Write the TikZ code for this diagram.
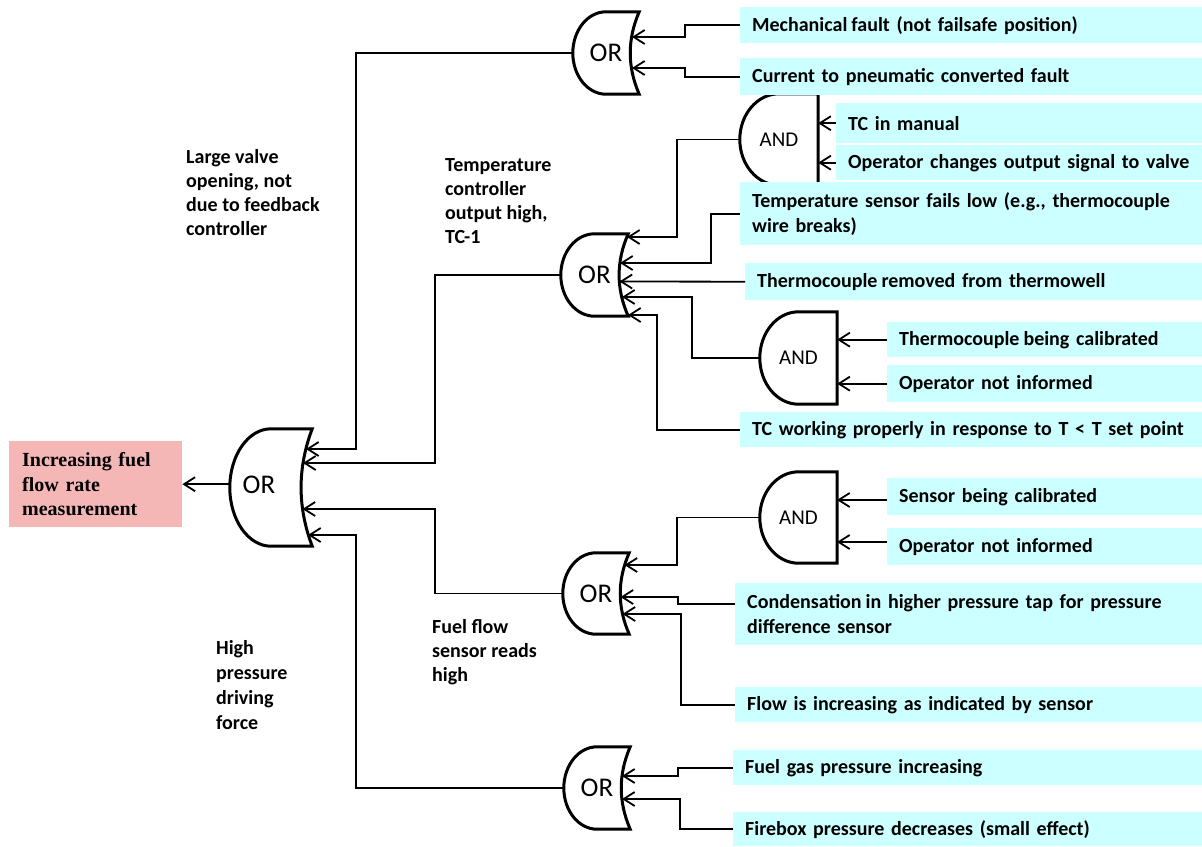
\documentclass[tikz,border=0pt]{standalone}
\usepackage{fontspec}
\setmainfont{Carlito}
\newfontfamily\serifb{Liberation Serif}
\usetikzlibrary{arrows.meta,calc}

\definecolor{evfill}{RGB}{204,255,255}
\definecolor{topfill}{RGB}{245,182,182}

\tikzset{
  gateline/.style={line width=3pt, line join=miter},
  gatenode/.style={inner sep=0pt, font=\fontsize{27}{30}\selectfont},
  andnode/.style={inner sep=0pt, font=\fontsize{21}{24}\selectfont},
  conn/.style={line width=1.8pt, -{Straight Barb[length=11pt,width=14pt,line width=1.8pt]}},
  evbox/.style={anchor=north west, fill=evfill, inner xsep=12pt, inner ysep=0pt,
    align=left, font=\fontsize{20}{25}\selectfont\bfseries},
  note/.style={anchor=west, align=left, inner sep=0pt, font=\fontsize{20}{24}\selectfont\bfseries},
}

% OR gate outline around a named node: round left side, concave input side
\newcommand\orshape[1]{%
  \draw[gateline] let \p1=(#1.north west), \p2=(#1.south east),
      \n1={0.5*(\x2-\x1)}, \n2={0.5*(\y1-\y2)}, \n3={0.18*(\x2-\x1)} in
    (\x2,\y1) -- (\x1+\n1,\y1)
    .. controls (\x1+0.448*\n1,\y1) and (\x1,\y1-0.448*\n2) .. (\x1,\y1-\n2)
    .. controls (\x1,\y2+0.448*\n2) and (\x1+0.448*\n1,\y2) .. (\x1+\n1,\y2)
    -- (\x2,\y2)
    .. controls (\x2-\n3,\y2+0.667*\n2) and (\x2-\n3,\y1-0.667*\n2) .. cycle;}

% AND gate outline around a named node: round left side, flat input side
\newcommand\andshape[1]{%
  \draw[gateline] let \p1=(#1.north west), \p2=(#1.south east),
      \n1={0.5*(\x2-\x1)}, \n2={0.5*(\y1-\y2)} in
    (\x2,\y1) -- (\x1+\n1,\y1)
    .. controls (\x1+0.448*\n1,\y1) and (\x1,\y1-0.448*\n2) .. (\x1,\y1-\n2)
    .. controls (\x1,\y2+0.448*\n2) and (\x1+0.448*\n1,\y2) .. (\x1+\n1,\y2)
    -- (\x2,\y2) -- cycle;}

% event box reaching the right edge: name, left x, top y, bottom y, text
\newcommand\evbox[5]{%
  \pgfmathsetmacro\bw{1200-#2}\pgfmathsetmacro\bh{#4-#3}\pgfmathsetmacro\tw{1200-#2-14}%
  \node[evbox, minimum width=\bw pt, minimum height=\bh pt, text width=\tw pt] (#1) at (#2,#3) {#5};}
\newcommand\wsp{\hspace{4pt}}

\begin{document}
\begin{tikzpicture}[x=1pt,y=-1pt]
\useasboundingbox (0,0) rectangle (1202,846);

% top event
\node[anchor=north west, fill=topfill, minimum width=173pt, minimum height=86pt,
  inner xsep=13pt, inner ysep=0pt, text width=147pt, align=left,
  font=\serifb\bfseries\fontsize{20}{24.5}\selectfont] (top) at (9,441)
  {Increasing fuel\\flow rate\\measurement};

% gates
\node[gatenode, minimum width=82pt, minimum height=117pt] (main) at (271,487.5) {};
\node[gatenode] (mainlabel) at (259,485) {OR};
\orshape{main}
\node[gatenode, minimum width=66pt, minimum height=82pt] (or1) at (606,53) {OR};
\orshape{or1}
\node[gatenode, minimum width=67pt, minimum height=82pt] (or2) at (594.5,275) {OR};
\orshape{or2}
\node[gatenode, minimum width=66pt, minimum height=81pt] (or3) at (596,593.5) {OR};
\orshape{or3}
\node[gatenode, minimum width=66pt, minimum height=82pt] (or4) at (597,788) {OR};
\orshape{or4}
\node[andnode, minimum width=78pt, minimum height=91pt] (and1) at (779,139.5) {AND};
\andshape{and1}
\node[andnode, minimum width=77pt, minimum height=92pt] (and2) at (798.5,358) {AND};
\andshape{and2}
\node[andnode, minimum width=77pt, minimum height=91pt] (and3) at (798.5,517.5) {AND};
\andshape{and3}

% intermediate event labels
\node[note] (lv) at (186,193) {Large valve\\opening, not\\due to feedback\\controller};
\node[note] (tco) at (445,201) {Temperature\\controller\\output high,\\TC-1};
\node[note, font=\fontsize{20}{25}\selectfont\bfseries] (hp) at (216,685) {High\\pressure\\driving\\force};
\node[note] (ff) at (432,652) {Fuel flow\\sensor reads\\high};

% basic events
\evbox{mech}{740}{7}{43}{Mechanical\wsp fault (not failsafe position)}
\evbox{ip}{740}{58}{95}{Current to pneumatic converted fault}
\evbox{tcm}{836}{103}{143}{TC in manual}
\evbox{ops}{836}{145}{180}{Operator changes output signal to valve}
\evbox{tsl}{740}{182}{245}{Temperature sensor fails low (e.g., thermocouple\\wire breaks)}
\evbox{tcr}{745}{263}{300}{Thermocouple\wsp removed from thermowell}
\evbox{tcb}{887}{322}{357}{Thermocouple\wsp being calibrated}
\evbox{oni}{887}{365}{402}{Operator not informed}
\evbox{tcw}{740}{412}{447}{TC working properly in response to T < T set point}
\evbox{sbc}{887}{478}{515}{Sensor being calibrated}
\evbox{onib}{887}{528}{565}{Operator not informed}
\evbox{cond}{735}{583}{645}{Condensation\wsp in higher pressure tap for pressure\\difference sensor}
\evbox{flow}{735}{687}{722}{Flow is increasing as indicated by sensor}
\evbox{fgp}{733}{750}{785}{Fuel gas pressure increasing}
\evbox{fbp}{733}{812}{846}{Firebox pressure decreases (small effect)}

% input points on the gate input sides
\coordinate (or1-a) at (632,37);
\coordinate (or1-b) at (632,68);
\coordinate (or2-a) at (627,237);
\coordinate (or2-b) at (620,263);
\coordinate (or2-c) at (619.5,281.5);
\coordinate (or2-d) at (622,297);
\coordinate (or2-e) at (628,315);
\coordinate (or3-a) at (624.5,565);
\coordinate (or3-b) at (620.5,597);
\coordinate (or3-c) at (622.5,614);
\coordinate (or4-a) at (622,776);
\coordinate (or4-b) at (622,799);
\coordinate (m-a) at (306,449);
\coordinate (m-b) at (303,463);
\coordinate (m-c) at (302.5,509);
\coordinate (m-d) at (308,535);
\coordinate (and3-a) at (837,500);
\coordinate (and3-b) at (837,542);

% connectors
\draw[conn] (main.west |- top.east) -- (top.east);

\draw[conn] (or1.west) -- ++(-217,0) |- (m-a);
\draw[conn] (or2.west) -- ++(-126,0) |- (m-b);
\draw[conn] (or3.west) -- ++(-128,0) |- (m-c);
\draw[conn] (or4.west) -- ++(-208,0) |- (m-d);

\draw[conn] (mech.west) -- ++(-55,0) |- (or1-a);
\draw[conn] (ip.west) -- ++(-55,0) |- (or1-b);

\draw[conn] (and1.west) -- ++(-63,0) |- (or2-a);
\draw[conn] (tsl.west) -- ++(-29,0) |- (or2-b);
\draw[conn] (tcr.west) -- (or2-c);
\draw[conn] (and2.west) -- ++(-68,0) |- (or2-d);
\draw[conn] (tcw.west) -- ++(-83,0) |- (or2-e);

\draw[conn] (tcm.west) -- (tcm.west -| and1.east);
\draw[conn] (ops.west) -- (ops.west -| and1.east);
\draw[conn] (tcb.west) -- (tcb.west -| and2.east);
\draw[conn] (oni.west) -- (oni.west -| and2.east);
\draw[conn] (sbc.west |- and3-a) -- (and3-a);
\draw[conn] (onib.west |- and3-b) -- (and3-b);

\draw[conn] (and3.west) -- ++(-83,0) |- (or3-a);
\draw[conn] ($(cond.west)+(0,-10)$) -- ++(-57,0) |- (or3-b);
\draw[conn] (flow.west) -- ++(-54,0) |- (or3-c);

\draw[conn] (fgp.west) -- ++(-55,0) |- (or4-a);
\draw[conn] (fbp.west) -- ++(-53,0) |- (or4-b);
\end{tikzpicture}
\end{document}
